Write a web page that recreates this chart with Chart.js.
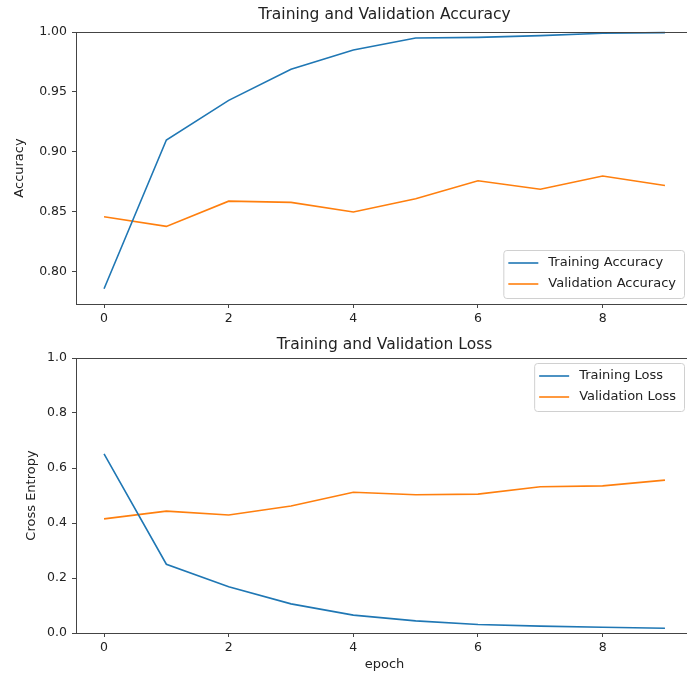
<!DOCTYPE html>
<html lang="en">
<head>
    <meta charset="UTF-8">
    <title>Training and Validation</title>
    <script src="https://cdn.jsdelivr.net/npm/chart.js"></script>
    <style>
        html, body { margin: 0; padding: 0; background: #fff; overflow: hidden; }
        .plot { position: absolute; left: 0; }
    </style>
</head>
<body>
    <div class="plot" style="top: 0;"><canvas id="accChart" width="694" height="335"></canvas></div>
    <div class="plot" style="top: 335px;"><canvas id="lossChart" width="694" height="340"></canvas></div>

    <script>
        // history values
        const epochs = [0, 1, 2, 3, 4, 5, 6, 7, 8, 9];
        const trainAcc = [0.786, 0.910, 0.943, 0.969, 0.985, 0.995, 0.9955, 0.997, 0.999, 0.9995];
        const valAcc = [0.846, 0.838, 0.859, 0.858, 0.850, 0.861, 0.876, 0.869, 0.880, 0.872];
        const trainLoss = [0.651, 0.250, 0.168, 0.106, 0.065, 0.044, 0.031, 0.025, 0.021, 0.017];
        const valLoss = [0.415, 0.443, 0.429, 0.462, 0.512, 0.503, 0.505, 0.532, 0.535, 0.556];

        const accTicks = [0.80, 0.85, 0.90, 0.95, 1.00];
        const lossTicks = [0.0, 0.2, 0.4, 0.6, 0.8, 1.0];

        const BLUE = '#1f77b4';
        const ORANGE = '#ff7f0e';
        const FONT = "'DejaVu Sans', sans-serif";
        const TEXT = '#222';
        const SPINE = '#444';

        function points(ys) {
            return epochs.map((x, i) => ({ x: x, y: ys[i] }));
        }

        // matplotlib style frame around the axes
        const framePlugin = {
            id: 'frame',
            afterDraw(chart) {
                const { ctx, chartArea: a } = chart;
                ctx.save();
                ctx.strokeStyle = SPINE;
                ctx.lineWidth = 1;
                ctx.strokeRect(Math.round(a.left) + 0.5, Math.round(a.top) + 0.5,
                    Math.round(a.right - a.left), Math.round(a.bottom - a.top));
                ctx.restore();
            }
        };

        // legend box inside the axes, line samples like matplotlib
        const boxLegend = {
            id: 'boxLegend',
            afterDraw(chart, args, opts) {
                const { ctx, chartArea: a } = chart;
                const sets = chart.data.datasets;
                ctx.save();
                ctx.font = '13px ' + FONT;
                let tw = 0;
                sets.forEach(d => { tw = Math.max(tw, ctx.measureText(d.label).width); });
                const w = 5 + 30 + 10 + tw + 8;
                const h = 48;
                const x = a.right - 9 - w;
                const y = opts.corner === 'lower' ? a.bottom - 6 - h : a.top + 5;
                ctx.fillStyle = 'rgba(255,255,255,0.85)';
                ctx.strokeStyle = '#d0d0d0';
                ctx.lineWidth = 1;
                ctx.beginPath();
                ctx.roundRect(x + 0.5, y + 0.5, w, h, 3);
                ctx.fill();
                ctx.stroke();
                sets.forEach((d, i) => {
                    const ry = y + 13 + i * 21;
                    ctx.strokeStyle = d.borderColor;
                    ctx.lineWidth = 1.6;
                    ctx.beginPath();
                    ctx.moveTo(x + 5, ry);
                    ctx.lineTo(x + 35, ry);
                    ctx.stroke();
                    ctx.fillStyle = TEXT;
                    ctx.textBaseline = 'middle';
                    ctx.fillText(d.label, x + 45, ry);
                });
                ctx.restore();
            }
        };

        function lineSet(label, ys, color) {
            return {
                label: label,
                data: points(ys),
                borderColor: color,
                backgroundColor: color,
                borderWidth: 1.6,
                pointRadius: 0,
                tension: 0,
                clip: false
            };
        }

        function makeChart(id, cfg) {
            const tickList = cfg.ticks;
            return new Chart(document.getElementById(id).getContext('2d'), {
                type: 'line',
                data: { datasets: cfg.datasets },
                plugins: [framePlugin, boxLegend],
                options: {
                    responsive: false,
                    animation: false,
                    devicePixelRatio: 1,
                    layout: { padding: { left: 0, right: 1, top: 0, bottom: 0 } },
                    plugins: {
                        legend: { display: false },
                        tooltip: { enabled: false },
                        title: {
                            display: true,
                            text: cfg.title,
                            fullSize: false,
                            color: TEXT,
                            font: { family: FONT, size: 15.5, weight: 'normal' },
                            padding: cfg.titlePad
                        },
                        boxLegend: { corner: cfg.legendCorner }
                    },
                    scales: {
                        x: {
                            type: 'linear',
                            min: -0.45,
                            max: 9.45,
                            afterFit: s => { s.height = cfg.xHeight; },
                            ticks: {
                                stepSize: 2,
                                includeBounds: false,
                                color: TEXT,
                                padding: 3,
                                maxRotation: 0,
                                font: { family: FONT, size: 12.5 }
                            },
                            grid: { drawOnChartArea: false, drawTicks: true, tickLength: 4, color: SPINE },
                            border: { display: false },
                            title: cfg.xTitle
                        },
                        y: {
                            min: cfg.yMin,
                            max: cfg.yMax,
                            afterFit: s => { s.width = 76; },
                            afterBuildTicks: s => { s.ticks = tickList.map(v => ({ value: v })); },
                            ticks: {
                                color: TEXT,
                                padding: 5,
                                font: { family: FONT, size: 12.5 },
                                callback: v => v.toFixed(cfg.digits)
                            },
                            grid: { drawOnChartArea: false, drawTicks: true, tickLength: 4, color: SPINE },
                            border: { display: false },
                            title: {
                                display: true,
                                text: cfg.yLabel,
                                color: TEXT,
                                font: { family: FONT, size: 13 },
                                padding: { top: cfg.yLabelPad, bottom: 0 }
                            }
                        }
                    }
                }
            });
        }

        window.onload = function () {
            makeChart('accChart', {
                title: 'Training and Validation Accuracy',
                titlePad: { top: 5.7, bottom: 7.7 },
                datasets: [
                    lineSet('Training Accuracy', trainAcc, BLUE),
                    lineSet('Validation Accuracy', valAcc, ORANGE)
                ],
                legendCorner: 'lower',
                xHeight: 31,
                xTitle: { display: false },
                yMin: 0.7733,
                yMax: 1.0,
                ticks: accTicks,
                digits: 2,
                yLabel: 'Accuracy',
                yLabelPad: 12.2
            });

            makeChart('lossChart', {
                title: 'Training and Validation Loss',
                titlePad: { top: 0.7, bottom: 3.7 },
                datasets: [
                    lineSet('Training Loss', trainLoss, BLUE),
                    lineSet('Validation Loss', valLoss, ORANGE)
                ],
                legendCorner: 'upper',
                xHeight: 42,
                xTitle: {
                    display: true,
                    text: 'epoch',
                    color: TEXT,
                    font: { family: FONT, size: 13 },
                    padding: { top: 0, bottom: 2.2 }
                },
                yMin: 0,
                yMax: 1.0,
                ticks: lossTicks,
                digits: 1,
                yLabel: 'Cross Entropy',
                yLabelPad: 24.2
            });
        };
    </script>
</body>
</html>
